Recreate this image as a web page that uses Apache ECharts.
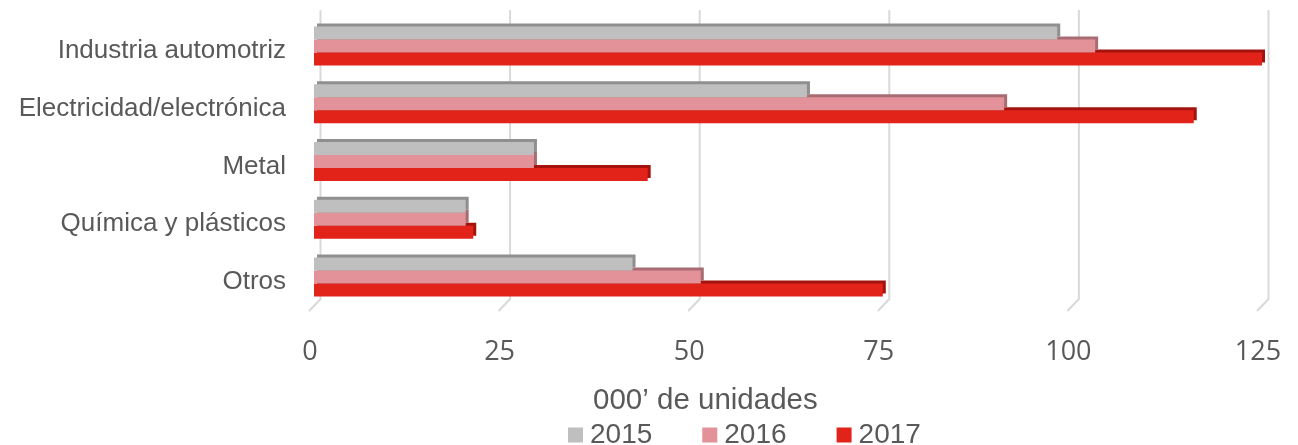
<!DOCTYPE html>
<html>
<head>
<meta charset="utf-8">
<script src="https://cdn.jsdelivr.net/npm/echarts@6/dist/echarts.min.js"></script>
<style>html,body{margin:0;padding:0;background:#fff;}#c{width:1298px;height:445px;}</style>
</head>
<body>
<div id="c"></div>
<script>
const categories = ['Industria automotriz', 'Electricidad/electrónica', 'Metal', 'Química y plásticos', 'Otros'];
const years = ['2015', '2016', '2017'];
const v2015 = [98, 65, 29, 20, 42];
const v2016 = [103, 91, 29, 20, 51];
const v2017 = [125, 116, 44, 21, 75];
const xTicks = [0, 25, 50, 75, 100, 125];
const axisTitle = '000’ de unidades';

const colors = ['#bfbfbf', '#e39299', '#e2231a'];
const topColors = ['#8f8f8f', '#a86d72', '#a5130e'];
const values = [v2015, v2016, v2017];

const chart = echarts.init(document.getElementById('c'), null, {renderer: 'canvas'});

const barSeries = years.map((y, i) => ({
  name: y,
  type: 'bar',
  data: values[i],
  barWidth: 13,
  barGap: '0%',
  z: 5 - i,
  itemStyle: {
    color: colors[i],
    shadowColor: topColors[i],
    shadowBlur: 0,
    shadowOffsetX: 3,
    shadowOffsetY: -3
  },
  emphasis: {disabled: true}
}));

const gridSeries = {
  type: 'custom',
  z: 1,
  silent: true,
  encode: {x: 0, y: 1},
  data: xTicks.map(t => [t, 0]),
  renderItem: function (params, api) {
    const cs = params.coordSys;
    const x = api.coord([api.value(0), 0])[0];
    const top = cs.y - 7;
    const bottom = cs.y + cs.height;
    return {
      type: 'polyline',
      shape: {points: [[x + 6.5, top], [x + 6.5, bottom - 7], [x - 5, bottom + 5]]},
      style: {stroke: '#d9d9d9', lineWidth: 2, fill: null}
    };
  }
};

chart.setOption({
  animation: false,
  backgroundColor: '#ffffff',
  title: {
    text: axisTitle,
    left: 593,
    top: 386,
    padding: 0,
    textStyle: {fontFamily: 'Liberation Sans', fontSize: 29.5, fontWeight: 'normal', color: '#595959'}
  },
  legend: {
    data: years,
    left: 568,
    top: 421,
    padding: 0,
    itemWidth: 15,
    itemHeight: 15,
    itemGap: 50,
    icon: 'rect',
    textStyle: {fontFamily: 'Liberation Sans', fontSize: 28, color: '#595959', padding: [0, 0, 0, 2]}
  },
  grid: {left: 314, right: 36, top: 17, height: 289, containLabel: false},
  xAxis: {
    type: 'value',
    min: 0,
    max: 125,
    interval: 25,
    axisLine: {show: false},
    axisTick: {show: false},
    splitLine: {show: false},
    axisLabel: {
      fontFamily: 'Open Sans',
      fontSize: 27,
      color: '#595959',
      margin: 33,
      padding: [0, 8, 0, 0]
    }
  },
  yAxis: {
    type: 'category',
    data: categories,
    inverse: true,
    axisLine: {show: false},
    axisTick: {show: false},
    splitLine: {show: false},
    axisLabel: {
      margin: 28,
      formatter: function (v) { return '{a|' + v + '}'; },
      rich: {
        a: {
          fontFamily: 'Liberation Sans',
          fontSize: 26,
          color: '#595959',
          padding: [10, 0, 0, 0]
        }
      }
    }
  },
  series: [gridSeries].concat(barSeries)
});
</script>
</body>
</html>
